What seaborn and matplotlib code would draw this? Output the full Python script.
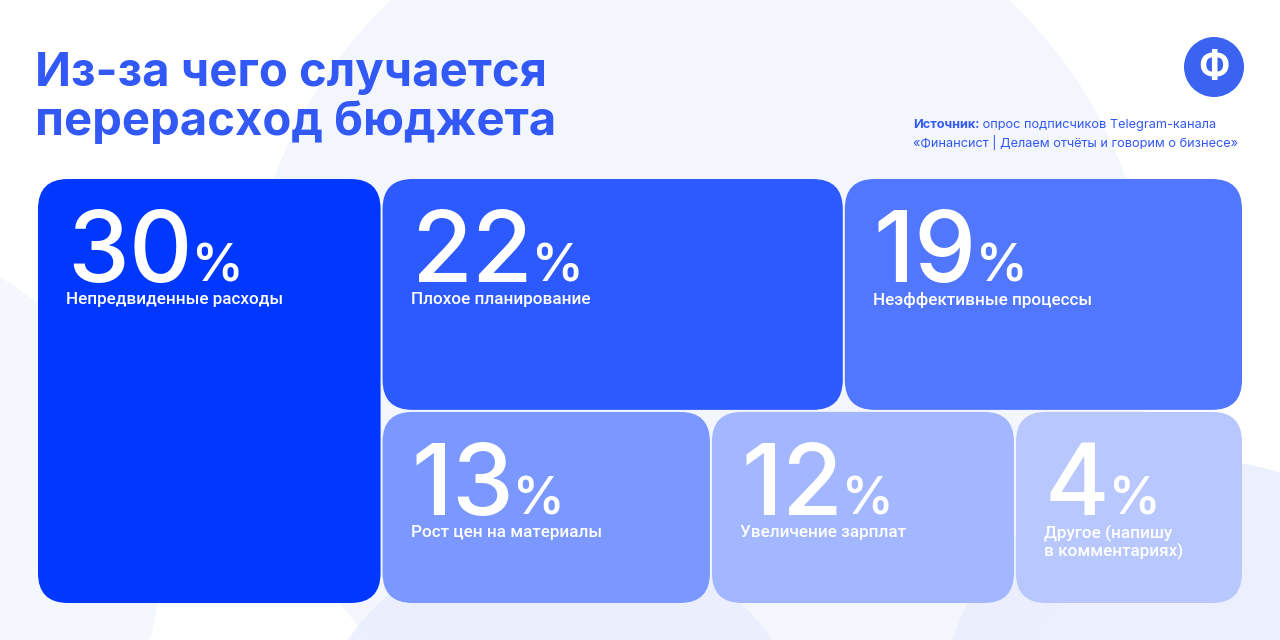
import numpy as np
import seaborn as sns
import matplotlib.pyplot as plt
from matplotlib.patches import FancyBboxPatch, Circle

# -------------------------------
#  Datos del gráfico
# -------------------------------
categorias = ["Непредвиденные расходы", "Плохое планирование", "Неэффективные процессы",
              "Рост цен на материалы", "Увеличение зарплат", "Другое (напишу\nв комментариях)"]
valores = [30, 22, 19, 13, 12, 4]

titulo = "Из-за чего случается\nперерасход бюджета"
fuente_bold = "Источник:"
fuente_1 = " опрос подписчиков Telegram-канала"
fuente_2 = "«Финансист | Делаем отчёты и говорим о бизнесе»"
logo = "Ф"

# Colores de los bloques (del más oscuro al más claro)
colores = sns.color_palette(["#0038FF", "#2C5AFF", "#5277FF", "#7A98FF", "#A2B7FF", "#B8C8FF"])
azul_titulo = "#3259F5"

# -------------------------------
#  Estilo
# -------------------------------
sns.set_theme(style="white")
plt.rcParams['font.family'] = ['Inter', 'DejaVu Sans']
fuente_etiqueta = ['Roboto', 'DejaVu Sans']

fig = plt.figure(figsize=(12.8, 6.4), dpi=100)
ax = fig.add_axes([0, 0, 1, 1])
ax.set_xlim(0, 1280)
ax.set_ylim(640, 0)
ax.axis("off")
renderer = fig.canvas.get_renderer()

# Fondo: círculos suaves
ax.add_patch(Circle((700, 330), 452, color="#F4F6FE", zorder=0, lw=0))
ax.add_patch(Circle((-170, 560), 330, color="#F5F7FE", zorder=0, lw=0))
ax.add_patch(Circle((560, 790), 260, color="#E6EBFD", zorder=0, lw=0, alpha=0.7))
ax.add_patch(Circle((1200, 720), 260, color="#E8ECFD", zorder=0, lw=0, alpha=0.8))

# -------------------------------
#  Treemap calculado a partir de los valores
# -------------------------------
W, H = 1206, 426          # tamaño del área del treemap (px)
X0, Y0 = 37, 178          # esquina superior izquierda
gap = 2
peso_min = 9              # mínimo visual para que quepa el texto de las categorías pequeñas
pesos = np.maximum(np.array(valores), peso_min)
filas = [[1, 2], [3, 4, 5]]

col_w = W * pesos[0] / pesos.sum()
rects = [(X0, Y0, col_w, H)]
resto = sum(pesos[i] for f in filas for i in f)
y = Y0
for fila in filas:
    s = pesos[fila].sum()
    h = H * s / resto
    x = X0 + col_w
    for i in fila:
        w = (W - col_w) * pesos[i] / s
        rects.append((x, y, w, h))
        x += w
    y += h

for (x, y, w, h), val, cat, col in zip(rects, valores, categorias, colores):
    ax.add_patch(FancyBboxPatch((x + gap / 2, y + gap / 2), w - gap, h - gap,
                                boxstyle="round,pad=0,rounding_size=30",
                                fc=col, ec="none", zorder=2))
    num = ax.text(x + 30, y + 104, str(val), color="white", fontsize=71,
                  fontweight="medium", va="baseline", ha="left", zorder=3)
    # el signo % va pegado al número, sobre la misma línea base
    bb = num.get_window_extent(renderer).transformed(ax.transData.inverted())
    ax.text(bb.x1 - 1, y + 104, "%", color="white", fontsize=37, fontweight="semibold",
            va="baseline", ha="left", zorder=3)
    ax.text(x + 29, y + 114, cat, color="white", fontsize=12.3, fontweight="medium",
            family=fuente_etiqueta, va="top", ha="left", linespacing=1.1, zorder=3)

# -------------------------------
#  Título, fuente y logo
# -------------------------------
ax.text(35, 135, titulo, color=azul_titulo, fontsize=34, fontweight="bold",
        va="baseline", ha="left", linespacing=1.15, zorder=3)

src = ax.text(913, 128, fuente_bold, color=azul_titulo, fontsize=9.2,
              fontweight="bold", va="baseline", ha="left", zorder=3)
ax.annotate(fuente_1, xy=(1, 0), xycoords=src, color=azul_titulo, fontsize=9.2,
            va="bottom", ha="left", zorder=3)
ax.text(913, 147, fuente_2, color=azul_titulo, fontsize=9.2,
        va="baseline", ha="left", zorder=3)

ax.add_patch(Circle((1214, 67), 30, color="#3A63F2", zorder=3, lw=0))
ax.text(1214, 68, logo, color="white", fontsize=27, fontweight="bold",
        va="center", ha="center", zorder=4)

plt.savefig("out.png", dpi=100)
